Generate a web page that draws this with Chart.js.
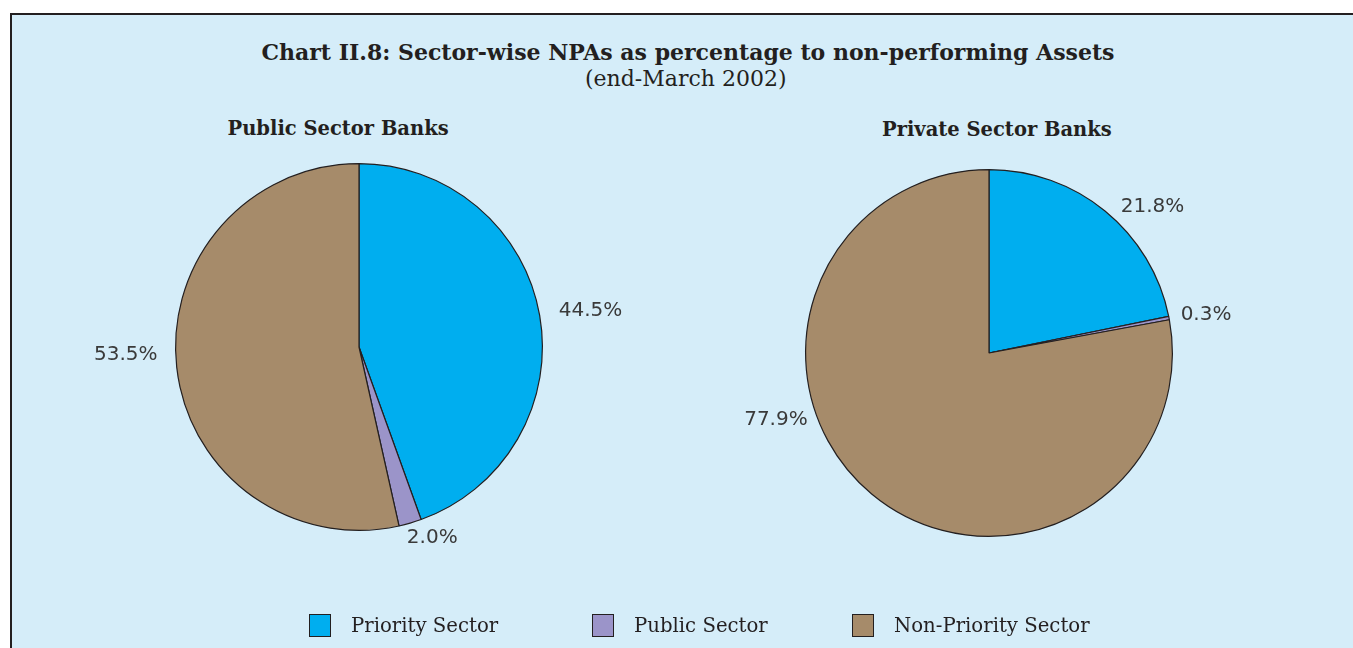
<!DOCTYPE html>
<html>
<head>
<meta charset="utf-8">
<script src="https://cdn.jsdelivr.net/npm/chart.js@4.4.1/dist/chart.umd.min.js"></script>
<style>
  html, body { margin: 0; padding: 0; background: #ffffff; }
  #wrap { position: relative; width: 1353px; height: 648px; overflow: hidden; background: #ffffff; }
  #panel { position: absolute; left: 10px; top: 13px; width: 1343px; height: 635px;
           background: #d5edf9; border-top: 2px solid #231f20; border-left: 2px solid #231f20; box-sizing: border-box; }
  .txt { position: absolute; font-family: "DejaVu Serif", serif; color: #231f20; white-space: nowrap; line-height: 1; }
  .ptitle { font-weight: bold; font-size: 19.5px; }
  canvas { position: absolute; }
  #legend { position: absolute; top: 0; left: 0; width: 1353px; height: 648px; }
  .li { position: absolute; display: flex; align-items: center; font-family: "DejaVu Serif", serif; font-size: 19.7px; color: #231f20; white-space: nowrap; line-height: 1; }
  .sw { width: 22px; height: 23px; border: 1.5px solid #231f20; margin-right: 20px; box-sizing: border-box; flex: none; }
</style>
</head>
<body>
<div id="wrap">
  <div id="panel"></div>
  <div id="title" class="txt" style="font-weight:bold;font-size:22px;">Chart II.8: Sector-wise NPAs as percentage to non-performing Assets</div>
  <div id="subtitle" class="txt" style="font-size:22px;">(end-March 2002)</div>
  <div id="t1" class="txt ptitle"></div>
  <div id="t2" class="txt ptitle"></div>
  <canvas id="c1" width="676" height="500" style="left:0px;top:100px;width:676px;height:500px;"></canvas>
  <canvas id="c2" width="677" height="500" style="left:676px;top:100px;width:677px;height:500px;"></canvas>
  <div id="legend"></div>
</div>
<script>
// ---- data ----
const categories = ["Priority Sector", "Public Sector", "Non-Priority Sector"];
const publicBanks = [44.5, 2.0, 53.5];
const privateBanks = [21.8, 0.3, 77.9];
const panelTitles = ["Public Sector Banks", "Private Sector Banks"];

// ---- styles ----
const colors = ["#00aeef", "#9b94c9", "#a68b6a"];
// label placement: angle (deg, clockwise from top) and gap beyond the rim
const labelPlacePublic = [{a: 81, g: 51}, {a: 159, g: 21}, {a: 268, g: 50}];
const labelPlacePrivate = [{a: 48.2, g: 36}, {a: 80, g: 37}, {a: 252.5, g: 40}];

document.getElementById('t1').textContent = panelTitles[0];
document.getElementById('t2').textContent = panelTitles[1];

const outLabels = {
  id: 'outLabels',
  afterDatasetsDraw(chart, args, opts) {
    const ctx = chart.ctx;
    const meta = chart.getDatasetMeta(0);
    const data = chart.data.datasets[0].data;
    ctx.save();
    ctx.font = '20px "DejaVu Sans", sans-serif';
    ctx.fillStyle = '#3a3a3a';
    ctx.textAlign = 'center';
    ctx.textBaseline = 'middle';
    meta.data.forEach((arc, i) => {
      const p = opts.place[i];
      const ang = p.a * Math.PI / 180;
      const r = arc.outerRadius + p.g;
      const x = arc.x + r * Math.sin(ang);
      const y = arc.y - r * Math.cos(ang);
      ctx.fillText(data[i].toFixed(1) + '%', x, y);
    });
    ctx.restore();
  }
};

function makePie(id, values, padding, place) {
  return new Chart(document.getElementById(id), {
    type: 'pie',
    data: {
      labels: categories,
      datasets: [{
        data: values,
        backgroundColor: colors,
        borderColor: '#231f20',
        borderWidth: 1.2
      }]
    },
    options: {
      responsive: false,
      animation: false,
      rotation: 0,
      layout: { padding: padding },
      plugins: {
        legend: { display: false },
        tooltip: { enabled: false },
        title: { display: false },
        outLabels: { place: place }
      }
    },
    plugins: [outLabels]
  });
}

makePie('c1', publicBanks, {left: 175, right: 133, top: 63, bottom: 69}, labelPlacePublic);
makePie('c2', privateBanks, {left: 129, right: 180, top: 69, bottom: 63}, labelPlacePrivate);

// legend
const legendX = [309, 592, 852];
const lg = document.getElementById('legend');
categories.forEach((c, i) => {
  const d = document.createElement('div');
  d.className = 'li';
  d.style.left = legendX[i] + 'px';
  d.style.top = '614px';
  const s = document.createElement('span');
  s.className = 'sw';
  s.style.background = colors[i];
  d.appendChild(s);
  d.appendChild(document.createTextNode(c));
  lg.appendChild(d);
});

// position texts centred at given points
function place(el, cx, cy) {
  el.style.left = (cx - el.offsetWidth / 2) + 'px';
  el.style.top = (cy - el.offsetHeight / 2) + 'px';
}
place(document.getElementById('title'), 688, 52);
place(document.getElementById('subtitle'), 686, 79);
place(document.getElementById('t1'), 338, 129);
place(document.getElementById('t2'), 997, 130);
</script>
</body>
</html>
